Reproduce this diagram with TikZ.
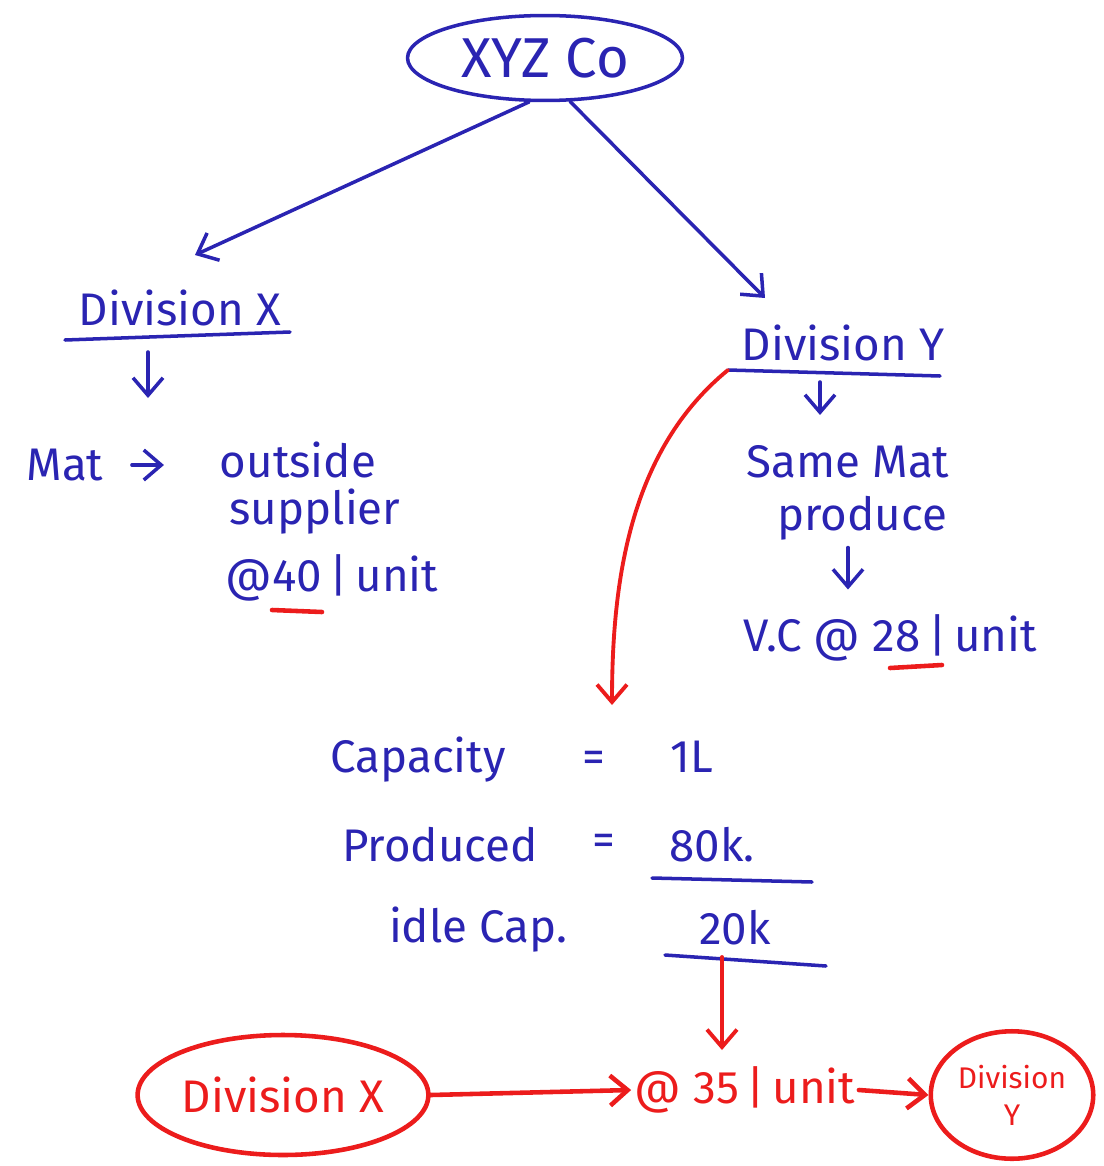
\documentclass[tikz,border=0pt]{standalone}
\usepackage{fontspec}
\setmainfont{Fira Sans}
\usetikzlibrary{positioning, calc}
\usetikzlibrary{arrows.meta}
\usetikzlibrary{shapes}
\definecolor{penblue}{RGB}{42,36,178}
\definecolor{penred}{RGB}{236,28,28}

\begin{document}
\begin{tikzpicture}[x=0.02cm,y=-0.02cm,draw=penblue,line width=2pt,line cap=round]
	\tikzstyle{b-txt}=[text=penblue,font=\fontsize{26}{30}\selectfont,inner sep=1pt]
	\tikzstyle{r-txt}=[text=penred,font=\fontsize{26}{30}\selectfont,inner sep=1pt]
	\tikzstyle{b-arr}=[draw=penblue,-{Straight Barb[length=3.5mm,width=6mm]}]
	\tikzstyle{r-arr}=[draw=penred,-{Straight Barb[length=3.5mm,width=6mm]}]
	\tikzstyle{r-line}=[draw=penred,line width=2.6pt]
	\useasboundingbox (0,0) rectangle (1103,1166);

	% company
	\node[b-txt,ellipse,draw=penblue,font=\fontsize{32}{36}\selectfont,minimum width=5.5cm,minimum height=1.7cm] (xyz) at (545,58) {XYZ Co};

	% division x
	\node[b-txt] (divx) at (180,308) {Division X};
	\coordinate (divxl) at (65,340);
	\coordinate (divxr) at (290,332);
	\node[b-txt] (mat) at (65,465) {Mat};
	\node[b-txt] (outs) at (298,460) {outside};
	\node[b-txt] (supp) at (315,512) {supplier};
	\node[b-txt] (pricex) at (332,578) {@40\,|\,unit};
	\coordinate (ulxa) at (272,610);
	\coordinate (ulxb) at (322,612);
	\coordinate (divxd) at (148,352);
	\coordinate (divxe) at (148,398);

	% division y
	\node[b-txt] (divy) at (843,343) {Division Y};
	\coordinate (divyl) at (728,370);
	\coordinate (divyr) at (940,376);
	\node[b-txt] (same) at (848,462) {Same Mat};
	\node[b-txt] (prod) at (862,518) {produce};
	\node[b-txt] (vc) at (890,638) {V.C @ 28\,|\,unit};
	\coordinate (ulya) at (890,668);
	\coordinate (ulyb) at (942,665);
	\coordinate (divyd) at (820,382);
	\coordinate (divye) at (820,415);

	% capacity
	\node[b-txt] (cap) at (418,760) {Capacity};
	\node[b-txt] (eq0) at (594,762) {=};
	\node[b-txt] (capv) at (692,757) {1L};
	\node[b-txt] (prd) at (440,845) {Produced};
	\node[b-txt] (eq1) at (604,845) {=};
	\node[b-txt] (prdv) at (712,845) {80k.};
	\coordinate (ulpa) at (652,878);
	\coordinate (ulpb) at (812,882);
	\node[b-txt] (idle) at (478,930) {idle Cap.};
	\node[b-txt] (idlev) at (735,928) {20k};
	\coordinate (ulia) at (665,955);
	\coordinate (ulib) at (826,966);
	\coordinate (idled) at (722,957);

	% transfer
	\node[r-txt,ellipse,draw=penred,line width=2.6pt,minimum width=5.7cm,minimum height=2.4cm] (tx) at (283,1095) {Division X};
	\node[r-txt] (price) at (745,1090) {@ 35\,|\,unit};
	\node[r-txt,ellipse,draw=penred,line width=2.6pt,inner sep=0pt,minimum width=3.25cm,minimum height=2.55cm,align=center,font=\fontsize{17}{21}\selectfont] (ty) at (1012,1095) {Division\\Y};

	\draw[b-arr] (xyz.250) -- (195,255);
	\draw[b-arr] (xyz.300) -- (765,298);
	\draw (divxl) -- (divxr);
	\draw (divyl) -- (divyr);
	\draw[b-arr] (divxd) -- (divxe);
	\draw[b-arr] (divyd) -- (divye);
	\draw[b-arr] (mat.east) ++(25,0) -- ++(32,0);
	\draw[b-arr] ($(prod.south)+(-14,4)$) -- ++(0,42);
	\draw[r-line] (ulxa) -- (ulxb);
	\draw[r-line] (ulya) -- (ulyb);
	\draw (ulpa) -- (ulpb);
	\draw (ulia) -- (ulib);
	\draw[r-arr,line width=2.2pt] (divyl) .. controls (630,450) and (612,580) .. (612,705);
	\draw[r-arr,line width=2.2pt] (idled) -- (722,1050);
	\draw[r-arr,line width=2.6pt] (tx.east) -- (price.west);
	\draw[r-arr,line width=2.6pt] (price.east) -- (ty.west);
\end{tikzpicture}
\end{document}
